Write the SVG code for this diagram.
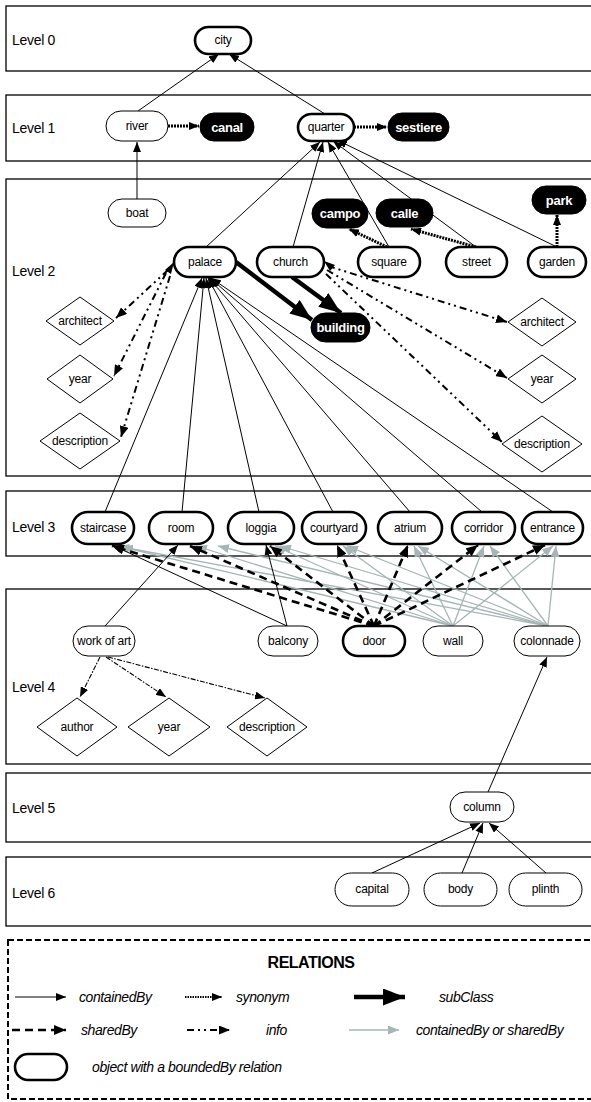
<svg xmlns="http://www.w3.org/2000/svg" width="591" height="1102" viewBox="0 0 591 1102">
<style>
.lv{fill:none;stroke:#000;stroke-width:1.3}
.lt{font-family:"Liberation Sans",Arial,sans-serif;font-size:14px;letter-spacing:-0.3px}
.n{fill:#fff;stroke:#000;stroke-width:1}
.nb{fill:#fff;stroke:#000;stroke-width:2.6}
.k{fill:#000;stroke:#000;stroke-width:1}
.t{font-family:"Liberation Sans",Arial,sans-serif;font-size:12px;text-anchor:middle;fill:#000;letter-spacing:-0.2px}
.tw{font-family:"Liberation Sans",Arial,sans-serif;font-size:13px;font-weight:bold;text-anchor:middle;fill:#fff;letter-spacing:-0.3px}
.d{fill:#fff;stroke:#000;stroke-width:1}
.c{fill:none;stroke:#000;stroke-width:1}
.sh{fill:none;stroke:#000;stroke-width:2.6;stroke-dasharray:8 5}
.gr{fill:none;stroke:#a6b5b5;stroke-width:1.3}
.sy{fill:none;stroke:#000;stroke-width:3;stroke-dasharray:2 1}
.sc{fill:none;stroke:#000;stroke-width:4.5}
.in{fill:none;stroke:#000;stroke-width:2;stroke-dasharray:7 4 2 4 2 4}
.in2{fill:none;stroke:#000;stroke-width:1.1;stroke-dasharray:5 1.5 1.5 1.5}
.lg{font-family:"Liberation Sans",Arial,sans-serif;font-size:14px;font-style:italic;letter-spacing:-0.4px}
</style>
<defs>
<marker id="a" viewBox="0 0 10 8" refX="10" refY="4" markerWidth="10" markerHeight="8" orient="auto" markerUnits="userSpaceOnUse"><path d="M0,0L10,4L0,8z" fill="#000"/></marker>
<marker id="ad" viewBox="0 0 12 10" refX="12" refY="5" markerWidth="12" markerHeight="10" orient="auto" markerUnits="userSpaceOnUse"><path d="M0,0L12,5L0,10z" fill="#000"/></marker>
<marker id="ag" viewBox="0 0 11 9" refX="11" refY="4.5" markerWidth="11" markerHeight="9" orient="auto" markerUnits="userSpaceOnUse"><path d="M0,0L11,4.5L0,9z" fill="#a6b5b5"/></marker>
<marker id="as" viewBox="0 0 22 17" refX="22" refY="8.5" markerWidth="22" markerHeight="17" orient="auto" markerUnits="userSpaceOnUse"><path d="M0,0L22,8.5L0,17z" fill="#000"/></marker>
<marker id="ay" viewBox="0 0 10 8" refX="10" refY="4" markerWidth="10" markerHeight="8" orient="auto" markerUnits="userSpaceOnUse"><path d="M0,0L10,4L0,8z" fill="#000"/></marker>
<marker id="ai" viewBox="0 0 11 9" refX="11" refY="4.5" markerWidth="11" markerHeight="9" orient="auto" markerUnits="userSpaceOnUse"><path d="M0,0L11,4.5L0,9z" fill="#000"/></marker>
</defs>

<g id="levels">
<rect class="lv" x="6" y="6" width="600" height="65"/>
<rect class="lv" x="6" y="95" width="600" height="66"/>
<rect class="lv" x="6" y="179" width="600" height="297"/>
<rect class="lv" x="6" y="491" width="600" height="65"/>
<rect class="lv" x="6" y="589" width="600" height="175"/>
<rect class="lv" x="6" y="773" width="600" height="69"/>
<rect class="lv" x="6" y="857" width="600" height="69"/>
<text class="lt" x="12" y="45">Level 0</text>
<text class="lt" x="12" y="133">Level 1</text>
<text class="lt" x="12" y="276">Level 2</text>
<text class="lt" x="12" y="532">Level 3</text>
<text class="lt" x="12" y="692">Level 4</text>
<text class="lt" x="12" y="813">Level 5</text>
<text class="lt" x="12" y="898">Level 6</text>
</g>

<g id="connectors">
<path class="c" d="M138,111L219,54" marker-end="url(#a)"/>
<path class="c" d="M325,114L229,54" marker-end="url(#a)"/>
<path class="sy" d="M168,126L199,126" marker-end="url(#ay)"/>
<path class="sy" d="M354,127L387,127" marker-end="url(#ay)"/>
<path class="c" d="M137,199L137,142" marker-end="url(#a)"/>
<path class="c" d="M206,247L320,142" marker-end="url(#a)"/>
<path class="c" d="M293,247L323,142" marker-end="url(#a)"/>
<path class="c" d="M389,247L328,142" marker-end="url(#a)"/>
<path class="c" d="M476,247L333,141" marker-end="url(#a)"/>
<path class="c" d="M557,247L337,140" marker-end="url(#a)"/>
<path class="sy" d="M387,247L349,229" marker-end="url(#ay)"/>
<path class="sy" d="M476,247L411,229" marker-end="url(#ay)"/>
<path class="sy" d="M557,247L557,215" marker-end="url(#ay)"/>
<path class="sc" d="M236,262L312,320" marker-end="url(#as)"/>
<path class="sc" d="M292,277L341,313" marker-end="url(#as)"/>
<path class="in" d="M168,270L116,318" marker-end="url(#ai)"/>
<path class="in" d="M166,273L114,376" marker-end="url(#ai)"/>
<path class="in" d="M170,276L121,437" marker-end="url(#ai)"/>
<polygon points="174,262 165,270 171,274" fill="#000"/>
<path class="in" d="M328,266L507,322" marker-end="url(#ai)"/>
<path class="in" d="M327,270L507,378" marker-end="url(#ai)"/>
<path class="in" d="M326,274L502,442" marker-end="url(#ai)"/>
<polygon points="324,261 335,265 330,271" fill="#000"/>
<path class="c" d="M105,512L202,278" marker-end="url(#a)"/>
<path class="c" d="M182,512L204,278" marker-end="url(#a)"/>
<path class="c" d="M259,512L206,278" marker-end="url(#a)"/>
<path class="c" d="M333,512L208,278" marker-end="url(#a)"/>
<path class="c" d="M410,512L209,278" marker-end="url(#a)"/>
<path class="c" d="M482,512L210,278" marker-end="url(#a)"/>
<path class="c" d="M553,512L211,278" marker-end="url(#a)"/>
<path class="gr" d="M453,626L118,546" marker-end="url(#ag)"/>
<path class="gr" d="M453,626L196,546" marker-end="url(#ag)"/>
<path class="gr" d="M453,626L275,546" marker-end="url(#ag)"/>
<path class="gr" d="M453,626L343,546" marker-end="url(#ag)"/>
<path class="gr" d="M453,626L414,546" marker-end="url(#ag)"/>
<path class="gr" d="M453,626L484,546" marker-end="url(#ag)"/>
<path class="gr" d="M453,626L553,546" marker-end="url(#ag)"/>
<path class="gr" d="M548,626L122,547" marker-end="url(#ag)"/>
<path class="gr" d="M548,626L218,546" marker-end="url(#ag)"/>
<path class="gr" d="M548,626L280,546" marker-end="url(#ag)"/>
<path class="gr" d="M548,626L347,546" marker-end="url(#ag)"/>
<path class="gr" d="M548,626L418,546" marker-end="url(#ag)"/>
<path class="gr" d="M548,626L490,546" marker-end="url(#ag)"/>
<path class="gr" d="M548,626L556,546" marker-end="url(#ag)"/>
<path class="c" d="M105,626L178,545" marker-end="url(#a)"/>
<path class="c" d="M287,626L112,545" marker-end="url(#a)"/>
<path class="c" d="M287,626L266,545" marker-end="url(#a)"/>
<path class="sh" d="M374,626L112,546" marker-end="url(#ad)"/>
<path class="sh" d="M374,626L190,546" marker-end="url(#ad)"/>
<path class="sh" d="M374,626L270,546" marker-end="url(#ad)"/>
<path class="sh" d="M374,626L337,545" marker-end="url(#ad)"/>
<path class="sh" d="M374,626L408,545" marker-end="url(#ad)"/>
<path class="sh" d="M374,626L478,545" marker-end="url(#ad)"/>
<path class="sh" d="M374,626L545,545" marker-end="url(#ad)"/>
<path class="in2" d="M100,657L80,697" marker-end="url(#a)"/>
<path class="in2" d="M106,657L166,697" marker-end="url(#a)"/>
<path class="in2" d="M108,657L265,698" marker-end="url(#a)"/>
<path class="c" d="M488,792L547,657" marker-end="url(#a)"/>
<path class="c" d="M372,873L480,823" marker-end="url(#a)"/>
<path class="c" d="M462,873L483,823" marker-end="url(#a)"/>
<path class="c" d="M546,873L489,823" marker-end="url(#a)"/>
</g>

<g id="n-city"><rect class="nb" x="195" y="27" width="56" height="27" rx="13.5"/><text class="t" x="223" y="44">city</text></g>
<g id="n-river"><rect class="n" x="106" y="111" width="62" height="30" rx="15"/><text class="t" x="137" y="130">river</text></g>
<g id="n-canal"><rect class="k" x="200" y="113" width="54" height="28" rx="14"/><text class="tw" x="227" y="131.5">canal</text></g>
<g id="n-quarter"><rect class="nb" x="298" y="114" width="56" height="27" rx="13.5"/><text class="t" x="326" y="131">quarter</text></g>
<g id="n-sestiere"><rect class="k" x="388" y="113" width="61" height="28" rx="14"/><text class="tw" x="418.5" y="131.5">sestiere</text></g>
<g id="n-boat"><rect class="n" x="108" y="199" width="58" height="28" rx="14"/><text class="t" x="137" y="217">boat</text></g>
<g id="n-palace"><rect class="nb" x="174" y="247" width="62" height="30" rx="15"/><text class="t" x="205" y="266">palace</text></g>
<g id="n-church"><rect class="nb" x="257" y="247" width="67" height="30" rx="15"/><text class="t" x="290.5" y="266">church</text></g>
<g id="n-square"><rect class="nb" x="358" y="247" width="62" height="30" rx="15"/><text class="t" x="389" y="266">square</text></g>
<g id="n-street"><rect class="nb" x="446" y="247" width="61" height="30" rx="15"/><text class="t" x="476.5" y="266">street</text></g>
<g id="n-garden"><rect class="nb" x="528" y="247" width="58" height="30" rx="15"/><text class="t" x="557" y="266">garden</text></g>
<g id="n-campo"><rect class="k" x="312" y="199" width="56" height="29" rx="14.5"/><text class="tw" x="340" y="218">campo</text></g>
<g id="n-calle"><rect class="k" x="376" y="199" width="57" height="28" rx="14"/><text class="tw" x="404.5" y="218">calle</text></g>
<g id="n-park"><rect class="k" x="532" y="186" width="54" height="28" rx="14"/><text class="tw" x="559" y="205">park</text></g>
<g id="n-building"><rect class="k" x="311" y="313" width="59" height="29" rx="14.5"/><text class="tw" x="340.5" y="332">building</text></g>
<g id="n-architect-l"><polygon class="d" points="46,321 80,297 114,321 80,345"/><text class="t" x="80" y="325">architect</text></g>
<g id="n-year-l"><polygon class="d" points="47,379 80,355 113,379 80,403"/><text class="t" x="80" y="383">year</text></g>
<g id="n-description-l"><polygon class="d" points="40,441 80,413 120,441 80,469"/><text class="t" x="80" y="445">description</text></g>
<g id="n-architect-r"><polygon class="d" points="508,322 542,298 576,322 542,346"/><text class="t" x="542" y="326">architect</text></g>
<g id="n-year-r"><polygon class="d" points="508,379 542,355 576,379 542,403"/><text class="t" x="542" y="383">year</text></g>
<g id="n-description-r"><polygon class="d" points="502,444 542,416 582,444 542,472"/><text class="t" x="542" y="448">description</text></g>

<g id="n-staircase"><rect class="nb" x="72" y="512" width="62" height="32" rx="16"/><text class="t" x="103" y="532">staircase</text></g>
<g id="n-room"><rect class="nb" x="149" y="512" width="64" height="32" rx="16"/><text class="t" x="181" y="532">room</text></g>
<g id="n-loggia"><rect class="nb" x="228" y="512" width="66" height="32" rx="16"/><text class="t" x="261" y="532">loggia</text></g>
<g id="n-courtyard"><rect class="nb" x="302" y="512" width="64" height="32" rx="16"/><text class="t" x="334" y="532">courtyard</text></g>
<g id="n-atrium"><rect class="nb" x="378" y="512" width="64" height="32" rx="16"/><text class="t" x="410" y="532">atrium</text></g>
<g id="n-corridor"><rect class="nb" x="452" y="512" width="63" height="32" rx="16"/><text class="t" x="483.5" y="532">corridor</text></g>
<g id="n-entrance"><rect class="nb" x="522" y="512" width="61" height="32" rx="16"/><text class="t" x="552.5" y="532">entrance</text></g>

<g id="n-workofart"><rect class="n" x="73" y="626" width="62" height="30" rx="15"/><text class="t" x="104" y="645">work of art</text></g>
<g id="n-balcony"><rect class="n" x="258" y="626" width="60" height="30" rx="15"/><text class="t" x="288" y="645">balcony</text></g>
<g id="n-door"><rect class="nb" x="343" y="626" width="62" height="30" rx="15"/><text class="t" x="374" y="645">door</text></g>
<g id="n-wall"><rect class="n" x="423" y="626" width="60" height="30" rx="15"/><text class="t" x="453" y="645">wall</text></g>
<g id="n-colonnade"><rect class="n" x="514" y="626" width="66" height="30" rx="15"/><text class="t" x="547" y="645">colonnade</text></g>
<g id="n-author"><polygon class="d" points="37,727 77,698 117,727 77,756"/><text class="t" x="77" y="731">author</text></g>
<g id="n-year-4"><polygon class="d" points="128,727 169,698 210,727 169,756"/><text class="t" x="169" y="731">year</text></g>
<g id="n-description-4"><polygon class="d" points="227,727 267,698 307,727 267,756"/><text class="t" x="267" y="731">description</text></g>

<g id="n-column"><rect class="n" x="450" y="792" width="64" height="30" rx="15"/><text class="t" x="482" y="811">column</text></g>
<g id="n-capital"><rect class="n" x="335" y="873" width="74" height="33" rx="16.5"/><text class="t" x="372" y="893">capital</text></g>
<g id="n-body"><rect class="n" x="424" y="873" width="73" height="33" rx="16.5"/><text class="t" x="460.5" y="893">body</text></g>
<g id="n-plinth"><rect class="n" x="509" y="873" width="73" height="33" rx="16.5"/><text class="t" x="545.5" y="893">plinth</text></g>

<g id="legend">
<rect x="8" y="940" width="600" height="159" fill="none" stroke="#000" stroke-width="2" stroke-dasharray="6 3"/>
<text x="311" y="968" text-anchor="middle" font-family="Liberation Sans, Arial, sans-serif" font-size="16" font-weight="bold" letter-spacing="-0.5">RELATIONS</text>
<path class="c" d="M15,997L66,997" marker-end="url(#a)"/>
<text class="lg" x="79" y="1002">containedBy</text>
<path fill="none" stroke="#000" stroke-width="2" stroke-dasharray="1.5 1" d="M185,997L222,997" marker-end="url(#ay)"/>
<text class="lg" x="236" y="1002">synonym</text>
<path class="sc" d="M354,997L405,997" marker-end="url(#as)"/>
<text class="lg" x="439" y="1002">subClass</text>
<path class="sh" d="M12,1030L66,1030" marker-end="url(#ad)"/>
<text class="lg" x="81" y="1035">sharedBy</text>
<path class="in" d="M187,1030L230,1030" marker-end="url(#ai)"/>
<text class="lg" x="266" y="1035">info</text>
<path class="gr" d="M349,1030L399,1030" marker-end="url(#ag)"/>
<text class="lg" x="416" y="1035">containedBy or sharedBy</text>
<rect class="nb" x="15" y="1054" width="52" height="26" rx="13"/>
<text class="lg" x="92" y="1072">object with a boundedBy relation</text>
</g>
</svg>
